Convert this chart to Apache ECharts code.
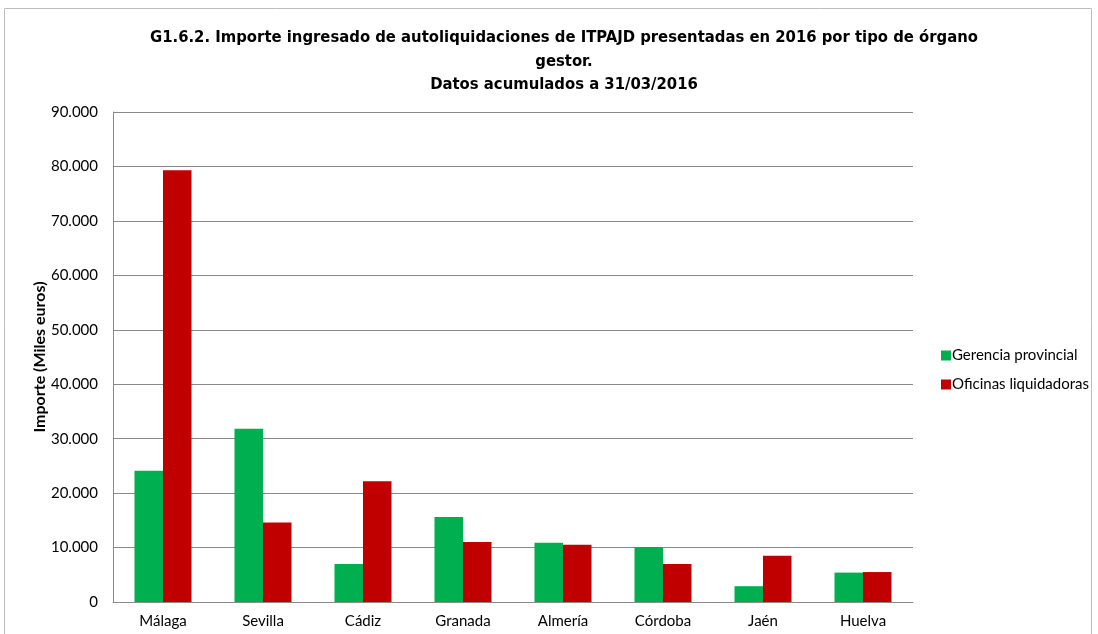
<!DOCTYPE html>
<html>
<head>
<meta charset="utf-8">
<script src="https://cdn.jsdelivr.net/npm/echarts@6/dist/echarts.min.js"></script>
<style>
html, body { margin: 0; padding: 0; background: #fff; }
#main { width: 1098px; height: 634px; }
</style>
</head>
<body>
<div id="main"></div>
<script>
// provincias
var provincias = ['Málaga', 'Sevilla', 'Cádiz', 'Granada', 'Almería', 'Córdoba', 'Jaén', 'Huelva'];
// miles de euros
var gerencia = [24100, 31800, 7000, 15600, 10900, 10100, 2900, 5400];
var oficinas = [79300, 14600, 22200, 11000, 10500, 7000, 8500, 5500];
var seriesNames = ['Gerencia provincial', 'Oficinas liquidadoras'];

function fmtMiles(v) {
    return String(v).replace(/\B(?=(\d{3})+(?!\d))/g, '.');
}

var myChart = echarts.init(document.getElementById('main'));
var option = {
    animation: false,
    title: {
        text: 'G1.6.2. Importe ingresado de autoliquidaciones de ITPAJD presentadas en 2016 por tipo de órgano\ngestor.\nDatos acumulados a 31/03/2016',
        left: 559,
        top: 21,
        textAlign: 'center',
        textStyle: {
            fontFamily: '"Liberation Sans Narrow", "DejaVu Sans Condensed", sans-serif',
            fontWeight: 'bold',
            fontSize: 16.5,
            lineHeight: 23.5,
            color: '#000'
        }
    },
    graphic: [{
        type: 'rect',
        shape: { x: 4.5, y: 8.5, width: 1087, height: 640 },
        style: { fill: 'none', stroke: '#bdbdbd', lineWidth: 1 },
        silent: true
    }],
    legend: {
        data: seriesNames,
        orient: 'vertical',
        left: 936,
        top: 343,
        itemWidth: 10,
        itemHeight: 10,
        itemGap: 14,
        icon: 'rect',
        textStyle: { fontFamily: 'Lato, sans-serif', fontSize: 15, color: '#000', padding: [0, 0, 0, -4] }
    },
    grid: {
        left: 113,
        right: 185,
        top: 112,
        bottom: 32
    },
    xAxis: {
        type: 'category',
        data: provincias,
        axisLine: { lineStyle: { color: '#8a8a8a', width: 1 } },
        axisTick: { show: false },
        axisLabel: { fontFamily: 'Lato, sans-serif', fontSize: 15, color: '#000', margin: 12 }
    },
    yAxis: {
        type: 'value',
        min: 0,
        max: 90000,
        interval: 10000,
        name: 'Importe (Miles euros)',
        nameLocation: 'middle',
        nameGap: 65,
        nameMoveOverlap: false,
        nameTextStyle: { fontFamily: 'Lato, sans-serif', fontSize: 16, fontWeight: 'bold', color: '#000' },
        axisLine: { show: true, lineStyle: { color: '#8a8a8a', width: 1 } },
        axisTick: { show: false },
        splitLine: { lineStyle: { color: '#8a8a8a', width: 1 } },
        axisLabel: {
            fontFamily: 'Lato, sans-serif', fontSize: 15, color: '#000', margin: 15,
            formatter: function (v) { return fmtMiles(v); }
        }
    },
    series: [
        {
            name: seriesNames[0],
            type: 'bar',
            data: gerencia,
            itemStyle: { color: '#00B050' },
            barGap: '0%',
            barCategoryGap: '43%'
        },
        {
            name: seriesNames[1],
            type: 'bar',
            data: oficinas,
            itemStyle: { color: '#C00000' },
            barGap: '0%',
            barCategoryGap: '43%'
        }
    ]
};
myChart.setOption(option);
</script>
</body>
</html>
